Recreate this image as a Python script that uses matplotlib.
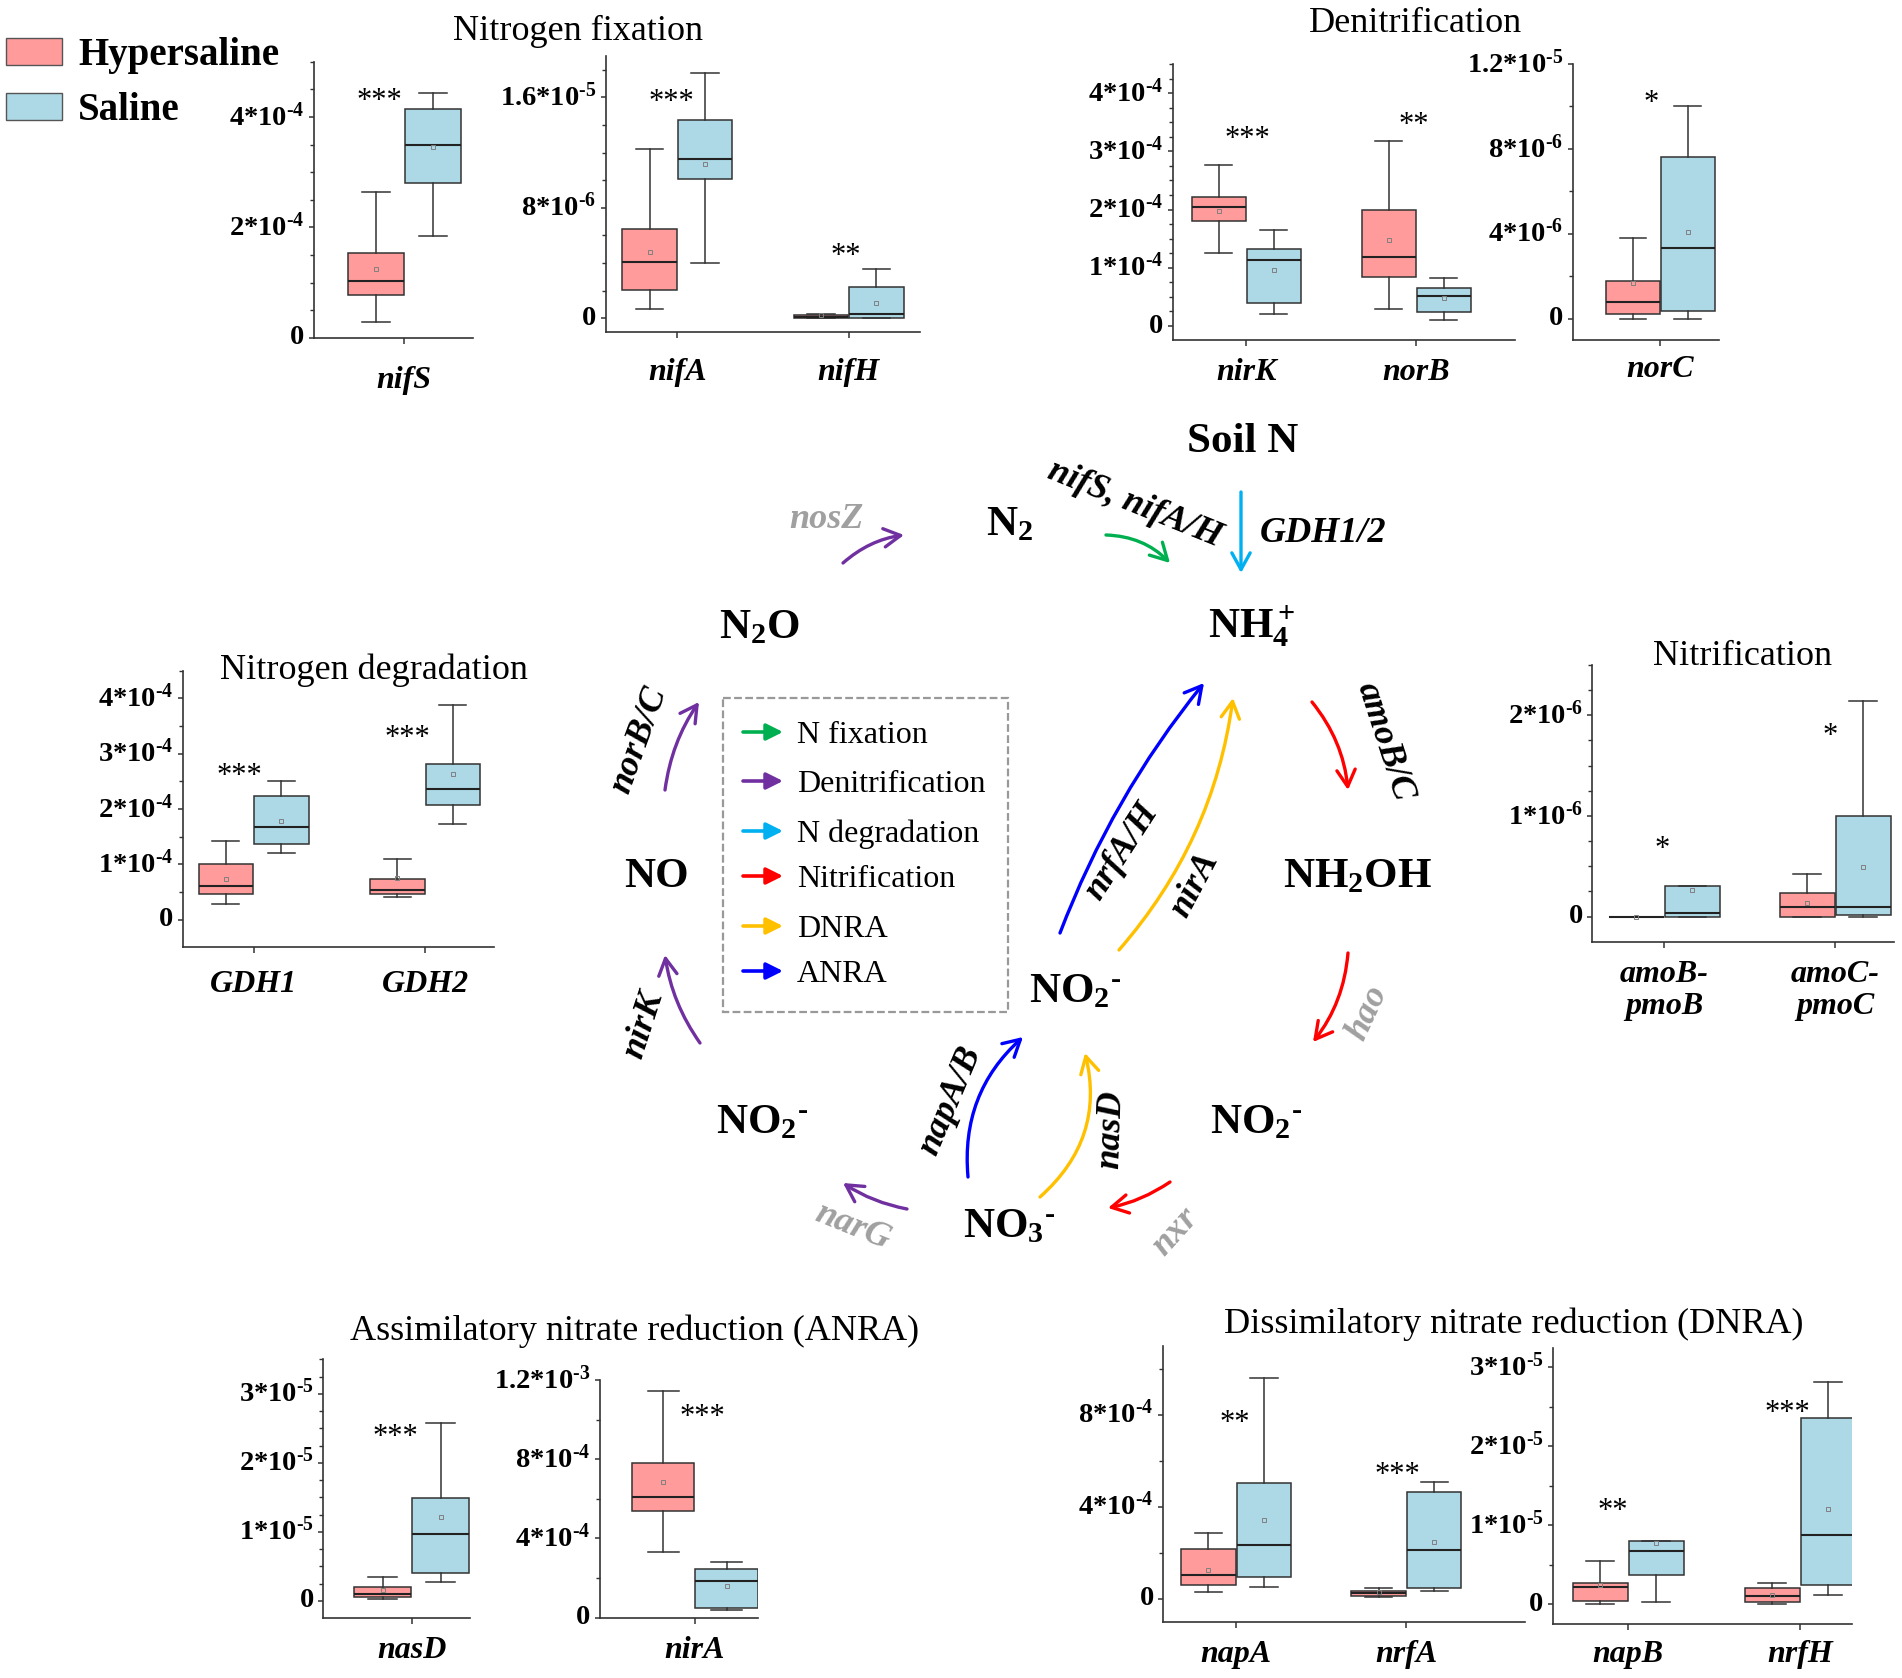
import math
import numpy as np
import matplotlib
matplotlib.use('Agg')
import matplotlib.pyplot as plt
from matplotlib.patches import Rectangle, FancyArrowPatch
from matplotlib.ticker import FixedLocator

W, H = 1902, 1678
PX = 100 / 72.0  # pixels per point at dpi 100
HY = '\u2010'    # short hyphen used for the raised minus signs

plt.rcParams['font.family'] = ['Liberation Serif', 'DejaVu Serif']
plt.rcParams['mathtext.fontset'] = 'custom'
plt.rcParams['mathtext.rm'] = 'Liberation Serif:bold'
plt.rcParams['mathtext.it'] = 'Liberation Serif:bold:italic'
plt.rcParams['mathtext.bf'] = 'Liberation Serif:bold'

# ---------------------------------------------------------------
# data: [lower whisker, Q1, median, Q3, upper whisker, mean]
# ---------------------------------------------------------------
groups = ['Hypersaline', 'Saline']
group_colors = ['#FF9B9B', '#ADD8E6']

nifS_hyper = [0.28e-4, 0.77e-4, 1.03e-4, 1.54e-4, 2.64e-4, 1.25e-4]
nifS_saline = [1.85e-4, 2.81e-4, 3.49e-4, 4.14e-4, 4.43e-4, 3.45e-4]
nifA_hyper = [0.65e-6, 2.04e-6, 4.06e-6, 6.49e-6, 12.25e-6, 4.78e-6]
nifA_saline = [3.99e-6, 10.07e-6, 11.56e-6, 14.37e-6, 17.76e-6, 11.2e-6]
nifH_hyper = [0.0, 0.05e-6, 0.12e-6, 0.20e-6, 0.33e-6, 0.20e-6]
nifH_saline = [0.0, 0.02e-6, 0.29e-6, 2.24e-6, 3.53e-6, 1.10e-6]
nirK_hyper = [1.25e-4, 1.81e-4, 2.05e-4, 2.21e-4, 2.77e-4, 1.98e-4]
nirK_saline = [0.21e-4, 0.39e-4, 1.14e-4, 1.33e-4, 1.65e-4, 0.96e-4]
norB_hyper = [0.29e-4, 0.84e-4, 1.19e-4, 1.99e-4, 3.17e-4, 1.48e-4]
norB_saline = [0.10e-4, 0.24e-4, 0.51e-4, 0.65e-4, 0.82e-4, 0.48e-4]
norC_hyper = [0.0, 0.22e-6, 0.78e-6, 1.79e-6, 3.80e-6, 1.68e-6]
norC_saline = [0.0, 0.36e-6, 3.34e-6, 7.64e-6, 10.0e-6, 4.11e-6]
GDH1_hyper = [0.28e-4, 0.47e-4, 0.60e-4, 1.01e-4, 1.42e-4, 0.74e-4]
GDH1_saline = [1.20e-4, 1.36e-4, 1.68e-4, 2.24e-4, 2.51e-4, 1.79e-4]
GDH2_hyper = [0.41e-4, 0.47e-4, 0.54e-4, 0.73e-4, 1.09e-4, 0.76e-4]
GDH2_saline = [1.73e-4, 2.07e-4, 2.36e-4, 2.81e-4, 3.88e-4, 2.63e-4]
amoB_hyper = [0.0, 0.0, 0.0, 0.0, 0.0, 0.0]
amoB_saline = [0.0, 0.0, 0.033e-6, 0.30e-6, 0.30e-6, 0.26e-6]
amoC_hyper = [0.0, 0.0, 0.097e-6, 0.233e-6, 0.426e-6, 0.133e-6]
amoC_saline = [0.0, 0.013e-6, 0.097e-6, 1.0e-6, 2.14e-6, 0.49e-6]
nasD_hyper = [0.024e-5, 0.053e-5, 0.10e-5, 0.20e-5, 0.34e-5, 0.15e-5]
nasD_saline = [0.265e-5, 0.40e-5, 0.965e-5, 1.49e-5, 2.57e-5, 1.21e-5]
nirA_hyper = [3.30e-4, 5.39e-4, 6.08e-4, 7.81e-4, 11.46e-4, 6.87e-4]
nirA_saline = [0.40e-4, 0.47e-4, 1.83e-4, 2.46e-4, 2.79e-4, 1.60e-4]
napA_hyper = [0.29e-4, 0.58e-4, 1.01e-4, 2.14e-4, 2.84e-4, 1.24e-4]
napA_saline = [0.49e-4, 0.94e-4, 2.34e-4, 5.04e-4, 9.61e-4, 3.44e-4]
nrfA_hyper = [0.07e-4, 0.13e-4, 0.23e-4, 0.35e-4, 0.48e-4, 0.30e-4]
nrfA_saline = [0.33e-4, 0.45e-4, 2.11e-4, 4.63e-4, 5.07e-4, 2.46e-4]
napB_hyper = [0.0, 0.04e-5, 0.22e-5, 0.275e-5, 0.55e-5, 0.25e-5]
napB_saline = [0.025e-5, 0.37e-5, 0.68e-5, 0.80e-5, 0.80e-5, 0.77e-5]
nrfH_hyper = [0.0, 0.03e-5, 0.11e-5, 0.20e-5, 0.275e-5, 0.12e-5]
nrfH_saline = [0.12e-5, 0.24e-5, 0.88e-5, 2.36e-5, 2.81e-5, 1.21e-5]

gene_data = {
    'nifS': (nifS_hyper, nifS_saline), 'nifA': (nifA_hyper, nifA_saline),
    'nifH': (nifH_hyper, nifH_saline), 'nirK': (nirK_hyper, nirK_saline),
    'norB': (norB_hyper, norB_saline), 'norC': (norC_hyper, norC_saline),
    'GDH1': (GDH1_hyper, GDH1_saline), 'GDH2': (GDH2_hyper, GDH2_saline),
    'amoB-\npmoB': (amoB_hyper, amoB_saline), 'amoC-\npmoC': (amoC_hyper, amoC_saline),
    'nasD': (nasD_hyper, nasD_saline), 'nirA': (nirA_hyper, nirA_saline),
    'napA': (napA_hyper, napA_saline), 'nrfA': (nrfA_hyper, nrfA_saline),
    'napB': (napB_hyper, napB_saline), 'nrfH': (nrfH_hyper, nrfH_saline),
}

# significance labels and the height they are written at
sig_marks = {'nifS': '***', 'nifA': '***', 'nifH': '**', 'nirK': '***', 'norB': '**',
             'norC': '*', 'GDH1': '***', 'GDH2': '***', 'amoB-\npmoB': '*', 'amoC-\npmoC': '*',
             'nasD': '***', 'nirA': '***', 'napA': '**', 'nrfA': '***', 'napB': '**', 'nrfH': '***'}
sig_height = {'nifS': 4.40e-4, 'nifA': 16.15e-6, 'nifH': 4.98e-6, 'nirK': 3.33e-4, 'norB': 3.57e-4,
              'norC': 10.46e-6, 'GDH1': 2.72e-4, 'GDH2': 3.40e-4, 'amoB-\npmoB': 0.74e-6,
              'amoC-\npmoC': 1.86e-6, 'nasD': 2.47e-5, 'nirA': 10.44e-4, 'napA': 7.93e-4,
              'nrfA': 5.66e-4, 'napB': 1.27e-5, 'nrfH': 2.51e-5}

# ---------------------------------------------------------------
# layout of the box-plot panels (pixel coords of the reference)
# ---------------------------------------------------------------
panels = [
    dict(rect=(313.6, 61.7, 473, 337.7), genes=['nifS'], ticks=[404], sig_dx=[-25], bw=56,
         ylim=(0, 5e-4), major=[0, 2e-4, 4e-4], minor=0.5e-4, xbase=388),
    dict(rect=(605.7, 56, 920, 332), genes=['nifA', 'nifH'], ticks=[677.3, 848.7], sig_dx=[-6, -3], bw=54.5,
         ylim=(-1e-6, 1.9e-5), major=[0, 8e-6, 1.6e-5], minor=2e-6, xbase=380),
    dict(rect=(1172.6, 64, 1515, 340), genes=['nirK', 'norB'], ticks=[1246.3, 1416], sig_dx=[1, -2], bw=54,
         ylim=(-0.24e-4, 4.5e-4), major=[0, 1e-4, 2e-4, 3e-4, 4e-4], minor=0.25e-4, xbase=380),
    dict(rect=(1573, 64, 1719, 340), genes=['norC'], ticks=[1660.5], sig_dx=[-9.5], bw=54,
         ylim=(-1e-6, 1.2e-5), major=[0, 4e-6, 8e-6, 1.2e-5], minor=2e-6, xbase=377),
    dict(rect=(183, 670.7, 494.3, 947.3), genes=['GDH1', 'GDH2'], ticks=[253.5, 425], sig_dx=[-14.5, -18], bw=54.5,
         ylim=(-0.5e-4, 4.5e-4), major=[0, 1e-4, 2e-4, 3e-4, 4e-4], minor=0.5e-4, xbase=991.7),
    dict(rect=(1592.3, 665, 1894.3, 941.7), genes=['amoB-\npmoB', 'amoC-\npmoC'], ticks=[1664.3, 1835],
         sig_dx=[-2.6, -5], bw=55, ylim=(-0.25e-6, 2.5e-6), major=[0, 1e-6, 2e-6], minor=0.25e-6, xbase=981.7),
    dict(rect=(323.3, 1359.3, 469.6, 1618), genes=['nasD'], ticks=[411.6], sig_dx=[-16.6], bw=57,
         ylim=(-0.25e-5, 3.5e-5), major=[0, 1e-5, 2e-5, 3e-5], minor=0.25e-5, xbase=1658),
    dict(rect=(600, 1380, 758.5, 1617.7), genes=['nirA'], ticks=[695], sig_dx=[7], bw=62.5,
         ylim=(0, 1.2e-3), major=[0, 4e-4, 8e-4, 1.2e-3], minor=2e-4, xbase=1658),
    dict(rect=(1163.1, 1345.7, 1524.6, 1621.7), genes=['napA', 'nrfA'], ticks=[1236.2, 1406.4], sig_dx=[-1.7, -9.4],
         bw=54.5, ylim=(-1e-4, 11e-4), major=[0, 4e-4, 8e-4], minor=2e-4, xbase=1661.7),
    dict(rect=(1553, 1347.7, 1852.2, 1624), genes=['napB', 'nrfH'], ticks=[1628.2, 1800], sig_dx=[-15, -12.3],
         bw=55, ylim=(-0.25e-5, 3.25e-5), major=[0, 1e-5, 2e-5, 3e-5], minor=0.5e-5, xbase=1661.7),
]

titles = [('Nitrogen fixation', 578, 40), ('Denitrification', 1416, 32),
          ('Nitrogen degradation', 374, 679), ('Nitrification', 1743, 665),
          ('Assimilatory nitrate reduction (ANRA)', 635, 1340),
          ('Dissimilatory nitrate reduction (DNRA)', 1514, 1333)]

EDGE = '#333333'


def sci_label(v):
    if abs(v) < 1e-15:
        return '0'
    e = int(math.floor(math.log10(abs(v)) + 1e-9))
    m = ('%.1f' % (v / 10 ** e)).rstrip('0').rstrip('.')
    return '%s*10$^{%s%d}$' % (m, HY, -e)


fig = plt.figure(figsize=(W / 100, H / 100), dpi=100)

# overlay axes in reference pixel coords for the pathway diagram
ov = fig.add_axes([0, 0, 1, 1])
ov.set_xlim(0, W)
ov.set_ylim(H, 0)
ov.axis('off')


def draw_panel(cfg):
    x0, y0, x1, y1 = cfg['rect']
    ax = fig.add_axes([x0 / W, 1 - y1 / H, (x1 - x0) / W, (y1 - y0) / H])
    ax.patch.set_alpha(0)
    ax.set_xlim(0, x1 - x0)
    ax.set_ylim(*cfg['ylim'])
    for s in ['top', 'right']:
        ax.spines[s].set_visible(False)
    for s in ['left', 'bottom']:
        ax.spines[s].set_linewidth(1.2)
        ax.spines[s].set_color(EDGE)

    stats, pos, cols = [], [], []
    bw = cfg['bw']
    for gene, t in zip(cfg['genes'], cfg['ticks']):
        for k, vals in enumerate(gene_data[gene]):
            stats.append(dict(whislo=vals[0], q1=vals[1], med=vals[2], q3=vals[3],
                              whishi=vals[4], mean=vals[5], fliers=[]))
            pos.append(t - x0 + (k - 0.5) * (bw + 1))
            cols.append(group_colors[k])
    bp = ax.bxp(stats, positions=pos, widths=bw, patch_artist=True, showmeans=True,
                showfliers=False, manage_ticks=False,
                boxprops=dict(edgecolor=EDGE, linewidth=1.1),
                medianprops=dict(color='#222222', linewidth=1.5),
                whiskerprops=dict(color=EDGE, linewidth=1.1),
                capprops=dict(color=EDGE, linewidth=1.1),
                meanprops=dict(marker='s', markersize=3.2, markerfacecolor='none',
                               markeredgecolor='#808080', markeredgewidth=0.7))
    for patch, c in zip(bp['boxes'], cols):
        patch.set_facecolor(c)

    # y axis
    ax.set_yticks(cfg['major'], labels=[sci_label(v) for v in cfg['major']],
                  fontsize=20.5, fontweight='bold')
    top = cfg['ylim'][1]
    minors = [v for v in np.arange(0, top + 1e-12, cfg['minor'])
              if min(abs(v - m) for m in cfg['major']) > cfg['minor'] * 0.1]
    ax.yaxis.set_minor_locator(FixedLocator(minors))
    ax.tick_params(axis='y', which='major', length=3.8, width=1.1, color=EDGE, pad=3)
    ax.tick_params(axis='y', which='minor', length=3.0, width=1.0, color=EDGE)
    for lab in ax.get_yticklabels():
        lab.set_va('center')

    # x axis
    xfs = 23
    ascent = 0.69 * xfs * PX
    gap = cfg['xbase'] - y1
    pad = max(0.5, (gap - ascent - 6) / PX)
    ax.set_xticks([t - x0 for t in cfg['ticks']], labels=cfg['genes'], fontsize=xfs,
                  fontweight='bold', fontstyle='italic', linespacing=1.15)
    ax.tick_params(axis='x', which='major', length=6 / PX, width=1.1, color=EDGE, pad=pad)

    # significance stars
    for gene, t, dx in zip(cfg['genes'], cfg['ticks'], cfg['sig_dx']):
        ax.annotate(sig_marks[gene], xy=(t - x0 + dx, sig_height[gene]), xytext=(0, -10.5),
                    textcoords='offset points', ha='center', va='baseline', fontsize=22)
    return ax


for cfg in panels:
    draw_panel(cfg)

for txt, x, y in titles:
    ov.text(x, y, txt, ha='center', va='baseline', fontsize=26)

# group legend (top-left)
for (y, name, c) in [(38, 'Hypersaline', group_colors[0]), (93, 'Saline', group_colors[1])]:
    ov.add_patch(Rectangle((6, y), 56, 27, facecolor=c, edgecolor='#555555', lw=1.0))
    ov.text(78, y + 27, name, ha='left', va='baseline', fontsize=28, fontweight='bold')

# ---------------------------------------------------------------
# pathway diagram
# ---------------------------------------------------------------
C_FIX, C_DEN, C_DEG = '#00B050', '#7030A0', '#00B0F0'
C_NIT, C_DNRA, C_ANRA = '#FF0000', '#FFC000', '#0000FF'
GRAY = '#A0A0A0'

NO2 = 'NO$_2$$^{%s}$' % HY
species = [('Soil N', 1243, 452, 'center'), ('N$_2$', 986, 535, 'left'),
           ('N$_2$O', 719, 638, 'left'), ('NH$_4^+$', 1208, 638, 'left'),
           ('NO', 624, 887, 'left'), ('NH$_2$OH', 1283, 887, 'left'),
           (NO2, 1029, 1002, 'left'), (NO2, 716, 1133, 'left'),
           (NO2, 1210, 1133, 'left'), ('NO$_3$$^{%s}$' % HY, 963, 1237, 'left')]
for txt, x, y, ha in species:
    ov.text(x, y, txt, ha=ha, va='baseline', fontsize=31, fontweight='bold')

arrows = [((843, 563), (904, 535), -0.15, C_DEN), ((1106, 535), (1170, 563), -0.2, C_FIX),
          ((1241, 492), (1241, 573), 0.0, C_DEG), ((1312, 702), (1348, 790), -0.15, C_NIT),
          ((1348, 953), (1313, 1042), -0.15, C_NIT), ((1170, 1182), (1108, 1208), -0.1, C_NIT),
          ((907, 1209), (843, 1183), -0.1, C_DEN), ((700, 1043), (665, 955), -0.12, C_DEN),
          ((665, 790), (699, 702), -0.12, C_DEN), ((968, 1177), (1023, 1037), -0.25, C_ANRA),
          ((1040, 1197), (1085, 1053), 0.3, C_DNRA), ((1060, 933), (1204, 683), -0.08, C_ANRA),
          ((1119, 950), (1233, 698), 0.15, C_DNRA)]
for p0, p1, rad, c in arrows:
    ov.add_patch(FancyArrowPatch(p0, p1, connectionstyle='arc3,rad=%s' % rad,
                                 arrowstyle='->,head_length=0.6,head_width=0.33',
                                 mutation_scale=20, lw=2.4, color=c, shrinkA=0, shrinkB=0))

gene_labels = [('nosZ', 826, 520, 0, GRAY), ('nifS, nifA/H', 1135, 504, -22, 'black'),
               ('GDH1/2', 1323, 534, 0, 'black'), ('norB/C', 639, 740, 70, 'black'),
               ('amoB/C', 1385, 742, -72, 'black'), ('hao', 1368, 1013, 65, GRAY),
               ('nirK', 644, 1025, 72, 'black'), ('napA/B', 950, 1101, 67, 'black'),
               ('nasD', 1111, 1130, 88, 'black'), ('nrfA/H', 1122, 852, 57, 'black'),
               ('nirA', 1195, 885, 62, 'black'), ('narG', 853, 1227, -22, GRAY),
               ('nxr', 1175, 1232, 48, GRAY)]
for txt, x, y, rot, c in gene_labels:
    ov.text(x, y, txt, ha='center', va='center', rotation=rot, rotation_mode='anchor',
            fontsize=26, fontweight='bold', fontstyle='italic', color=c)

# process legend (dashed box)
ov.add_patch(Rectangle((723, 698), 285, 314, facecolor='none', edgecolor='#999999',
                       lw=1.6, linestyle=(0, (3.5, 1.5))))
legend_items = [('N fixation', C_FIX, 743), ('Denitrification', C_DEN, 792),
                ('N degradation', C_DEG, 842), ('Nitrification', C_NIT, 887),
                ('DNRA', C_DNRA, 937), ('ANRA', C_ANRA, 982)]
for txt, c, base in legend_items:
    ov.add_patch(FancyArrowPatch((743, base - 11), (783, base - 11),
                                 arrowstyle='-|>,head_length=0.5,head_width=0.25',
                                 mutation_scale=20, lw=2.6, color=c, shrinkA=0, shrinkB=0))
    ov.text(797, base, txt, ha='left', va='baseline', fontsize=23)

fig.savefig('out.png', dpi=100)
plt.close(fig)
